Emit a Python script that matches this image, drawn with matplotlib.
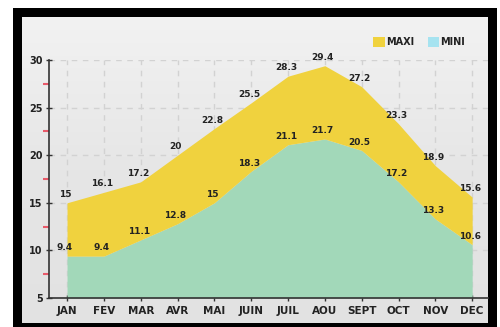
import matplotlib
matplotlib.use("Agg")
import matplotlib.pyplot as plt
import numpy as np
from matplotlib.patches import Rectangle
from matplotlib.colors import LinearSegmentedColormap

months = ["JAN", "FEV", "MAR", "AVR", "MAI", "JUIN", "JUIL", "AOU", "SEPT", "OCT", "NOV", "DEC"]
maxi = [15, 16.1, 17.2, 20, 22.8, 25.5, 28.3, 29.4, 27.2, 23.3, 18.9, 15.6]
mini = [9.4, 9.4, 11.1, 12.8, 15, 18.3, 21.1, 21.7, 20.5, 17.2, 13.3, 10.6]
yticks = [5, 10, 15, 20, 25, 30]
yminor = [7.5, 12.5, 17.5, 22.5, 27.5]

YELLOW = "#f0d23e"
GREEN = "#a2d8b9"
BLUE = "#a6e3f0"

W, H = 500, 327
fig = plt.figure(figsize=(W / 100, H / 100), dpi=100)
fig.patch.set_facecolor("white")

def fx(px):
    return px / W

def fy(py):
    return 1 - py / H

# black frame
fig.patches.append(Rectangle((fx(13), fy(327)), fx(497) - fx(13), fy(8) - fy(327),
                             transform=fig.transFigure, facecolor="black", edgecolor="none", zorder=0))
# gradient panel
bg = fig.add_axes([fx(22), fy(323), fx(488) - fx(22), fy(17) - fy(323)], zorder=1)
grad = np.linspace(0, 1, 256).reshape(-1, 1)
cmap = LinearSegmentedColormap.from_list("g", ["#f2f2f2", "#e6e6e6", "#e2e2e2"])
bg.imshow(grad, aspect="auto", cmap=cmap, extent=[0, 1, 0, 1], origin="upper")
bg.axis("off")

ax = fig.add_axes([fx(49), fy(298), fx(488) - fx(49), fy(60) - fy(298)], zorder=2)
ax.patch.set_alpha(0)
x = np.arange(len(months))
ax.fill_between(x, 5, mini, color=GREEN, lw=0, zorder=2)
ax.fill_between(x, mini, maxi, color=YELLOW, lw=0, zorder=2)

ax.set_xlim(-0.49, 11.43)
ax.set_ylim(5, 30)
ax.set_xticks(x)
ax.set_xticklabels(months)
ax.set_yticks(yticks)
ax.set_yticklabels([str(v) for v in yticks])
ax.set_yticks(yminor, minor=True)
ax.tick_params(axis="y", which="minor", colors="#e85a6a", length=4, direction="out", width=1.5)
ax.tick_params(axis="y", which="major", length=5, direction="inout", width=1, color="#333333",
               labelsize=7, pad=2)
ax.tick_params(axis="x", which="major", length=5, direction="inout", width=1, color="#333333",
               labelsize=7.5, pad=3)
for lab in ax.get_xticklabels() + ax.get_yticklabels():
    lab.set_fontweight("bold")
    lab.set_color("#222222")

ax.grid(True, which="major", color="#d2d2d2", linestyle=(0, (4, 4)), lw=1, zorder=1)
for s in ["top", "right"]:
    ax.spines[s].set_visible(False)
for s in ["left", "bottom"]:
    ax.spines[s].set_color("#333333")
    ax.spines[s].set_linewidth(1.2)
    ax.spines[s].set_zorder(4)

for i in range(len(months)):
    for v in (maxi[i], mini[i]):
        ax.annotate(f"{v:g}", (x[i], v), xytext=(-1.5, 6), textcoords="offset points",
                    ha="center", va="center", fontsize=6.5, fontweight="bold",
                    color="#222222", zorder=5)

# legend
fig.patches.append(Rectangle((fx(373), fy(47)), fx(385) - fx(373), fy(37) - fy(47),
                             transform=fig.transFigure, facecolor=YELLOW, edgecolor="none", zorder=3))
fig.text(fx(386), fy(42), "MAXI", fontsize=7, fontweight="bold", color="#222222",
         va="center", ha="left", zorder=3)
fig.patches.append(Rectangle((fx(428), fy(47)), fx(439) - fx(428), fy(37) - fy(47),
                             transform=fig.transFigure, facecolor=BLUE, edgecolor="none", zorder=3))
fig.text(fx(440), fy(42), "MINI", fontsize=7, fontweight="bold", color="#222222",
         va="center", ha="left", zorder=3)

fig.savefig("out.png", dpi=100)
